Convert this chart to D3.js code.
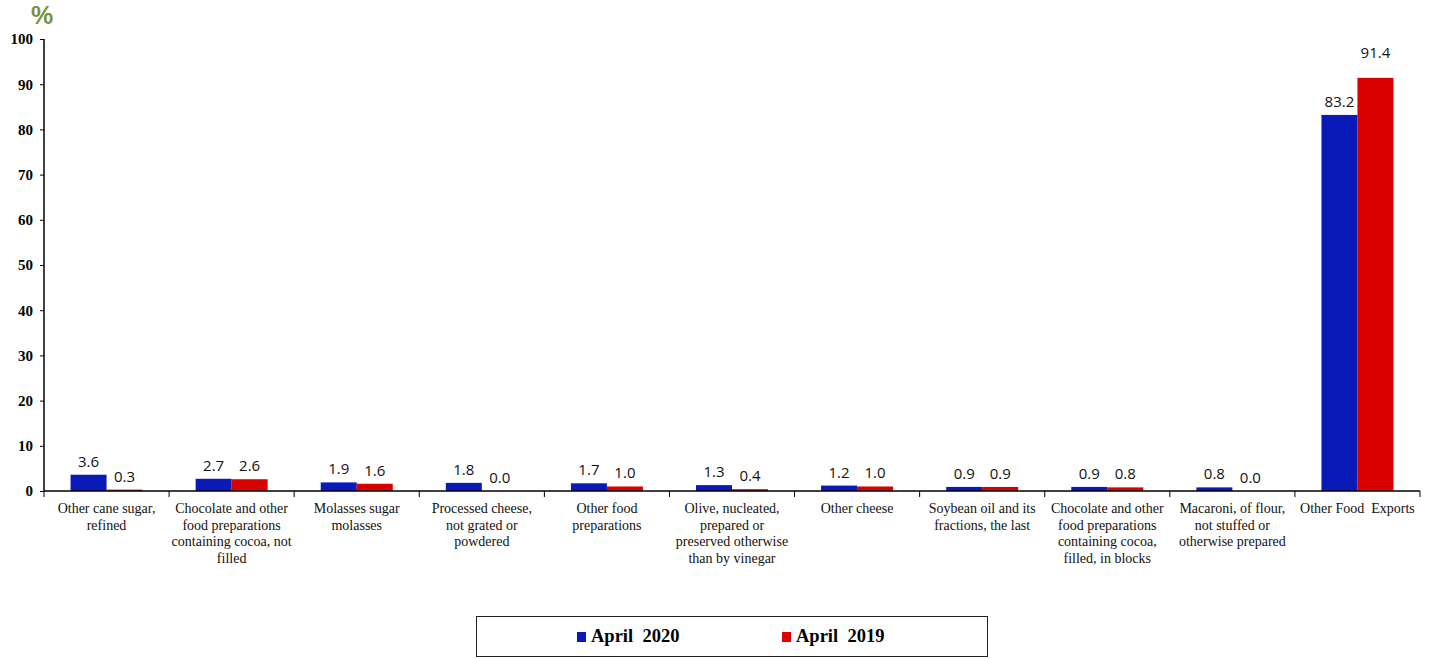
<!DOCTYPE html>
<html>
<head>
<meta charset="utf-8">
<script src="https://cdn.jsdelivr.net/npm/d3@7"></script>
<style>
  body { margin: 0; background: #fff; }
  svg { display: block; }
</style>
</head>
<body>
<div id="chart"></div>
<script>
// category labels, already broken into lines as in the picture
let categories = [
  ["Other cane sugar,", "refined"],
  ["Chocolate and other", "food preparations", "containing cocoa, not", "filled"],
  ["Molasses sugar", "molasses"],
  ["Processed cheese,", "not grated or", "powdered"],
  ["Other food", "preparations"],
  ["Olive, nucleated,", "prepared or", "preserved otherwise", "than by vinegar"],
  ["Other cheese"],
  ["Soybean oil and its", "fractions, the last"],
  ["Chocolate and other", "food preparations", "containing cocoa,", "filled, in blocks"],
  ["Macaroni, of flour,", "not stuffed or", "otherwise prepared"],
  ["Other Food  Exports"]
];
let april2020 = [3.6, 2.7, 1.9, 1.8, 1.7, 1.3, 1.2, 0.9, 0.9, 0.8, 83.2];
let april2019 = [0.3, 2.6, 1.6, 0.0, 1.0, 0.4, 1.0, 0.9, 0.8, 0.0, 91.4];
let seriesNames = ["April  2020", "April  2019"];
let seriesColors = ["#0A1AB8", "#D90000"];
let yTicks = [0, 10, 20, 30, 40, 50, 60, 70, 80, 90, 100];

let WIDTH = 1434, HEIGHT = 658;
let LEFT = 44, RIGHT = 1420, TOP = 39, BOTTOM = 491;
let SERIF = "'Liberation Serif', 'Times New Roman', serif";

let svg = d3.select("#chart").append("svg").attr("width", WIDTH).attr("height", HEIGHT);

let x = d3.scaleBand().domain(d3.range(categories.length)).range([LEFT, RIGHT]);
let inner = d3.scaleBand().domain([0, 1]).range([0, 72]);
let y = d3.scaleLinear().domain([0, 100]).range([BOTTOM, TOP]);
let offset = (x.bandwidth() - 72) / 2;
let topValue = d3.max(april2019.concat(april2020));

let rows = categories.map(function(c, i) { return {i: i, vals: [april2020[i], april2019[i]]}; });

// bars
let groups = svg.selectAll("g.cat").data(rows).enter().append("g")
  .attr("class", "cat")
  .attr("transform", function(d) { return "translate(" + (x(d.i) + offset) + ",0)"; });

groups.selectAll("rect").data(function(d) { return d.vals; }).enter().append("rect")
  .attr("x", function(v, j) { return inner(j); })
  .attr("y", function(v) { return y(v); })
  .attr("width", inner.bandwidth())
  .attr("height", function(v) { return BOTTOM - y(v); })
  .attr("fill", function(v, j) { return seriesColors[j]; });

// value labels (the tallest one sits a bit higher, like in the original)
groups.selectAll("text").data(function(d) { return d.vals; }).enter().append("text")
  .attr("x", function(v, j) { return inner(j) + inner.bandwidth() / 2; })
  .attr("y", function(v) { return y(v) - (v === topValue ? 20 : 8); })
  .attr("text-anchor", "middle")
  .style("font-family", "'Open Sans', sans-serif")
  .style("font-size", "15px")
  .attr("fill", "#111")
  .text(function(v) { return v.toFixed(1); });

// y axis
let yAxis = svg.append("g").attr("transform", "translate(" + LEFT + ",0)")
  .call(d3.axisLeft(y).tickValues(yTicks).tickSize(4).tickPadding(7));
yAxis.select(".domain").attr("stroke", "#000").attr("stroke-width", 1.5).attr("d", "M0," + TOP + "V" + BOTTOM);
yAxis.selectAll(".tick line").attr("stroke", "#000");
yAxis.selectAll(".tick text")
  .style("font-family", SERIF)
  .style("font-size", "15px").style("font-weight", "bold").attr("fill", "#000");

// x axis with separators between categories
svg.append("line").attr("x1", LEFT).attr("x2", RIGHT).attr("y1", BOTTOM).attr("y2", BOTTOM)
  .attr("stroke", "#000").attr("stroke-width", 1.5);
svg.selectAll("line.sep").data(d3.range(categories.length + 1)).enter().append("line")
  .attr("class", "sep")
  .attr("x1", function(i) { return i < categories.length ? x(i) : RIGHT; })
  .attr("x2", function(i) { return i < categories.length ? x(i) : RIGHT; })
  .attr("y1", BOTTOM).attr("y2", BOTTOM + 6)
  .attr("stroke", "#000");

let labels = svg.selectAll("text.cat").data(categories).enter().append("text")
  .attr("class", "cat")
  .attr("text-anchor", "middle")
  .style("font-family", SERIF)
  .style("font-size", "14px")
  .style("white-space", "pre")
  .attr("fill", "#111");
labels.each(function(lines, i) {
  d3.select(this).selectAll("tspan").data(lines).enter().append("tspan")
    .attr("x", x(i) + x.bandwidth() / 2)
    .attr("y", function(l, k) { return 513 + k * 16.5; })
    .text(function(l) { return l; });
});

// % unit
svg.append("text").attr("x", 42).attr("y", 24).attr("text-anchor", "middle")
  .style("font-family", "'Liberation Sans', Arial, sans-serif")
  .style("font-size", "25px").style("font-weight", "bold")
  .attr("fill", "#77933C").text("%");

// legend
svg.append("rect").attr("x", 476.5).attr("y", 616.5).attr("width", 511).attr("height", 40)
  .attr("fill", "none").attr("stroke", "#222").attr("stroke-width", 1);
let legendX = [577, 782];
let leg = svg.selectAll("g.leg").data(seriesNames).enter().append("g")
  .attr("class", "leg")
  .attr("transform", function(d, i) { return "translate(" + legendX[i] + ",632)"; });
leg.append("rect").attr("width", 9).attr("height", 10)
  .attr("fill", function(d, i) { return seriesColors[i]; });
leg.append("text").attr("x", 14).attr("y", 10)
  .style("font-family", SERIF)
  .style("font-size", "18.5px").style("font-weight", "bold")
  .style("white-space", "pre")
  .attr("fill", "#000")
  .text(function(d) { return d; });
</script>
</body>
</html>
